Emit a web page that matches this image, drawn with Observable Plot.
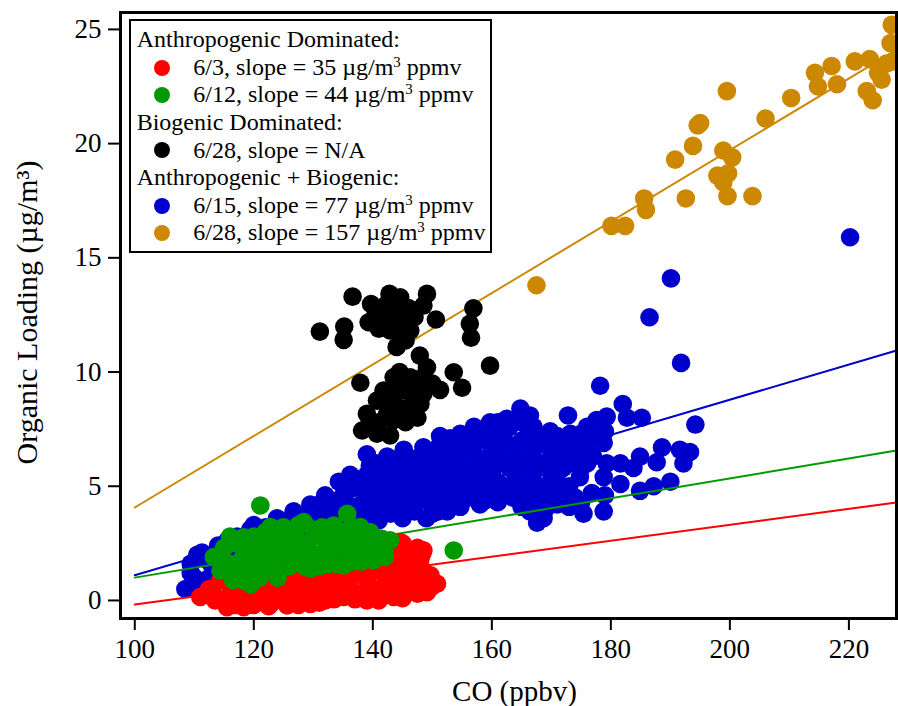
<!DOCTYPE html>
<html><head><meta charset="utf-8">
<script src="https://cdn.jsdelivr.net/npm/d3@7"></script>
<script src="https://cdn.jsdelivr.net/npm/@observablehq/plot@0.6"></script>
<style>
body{margin:0;background:#fff;}
#wrap{position:relative;width:898px;height:706px;font-family:"Liberation Serif","Times New Roman",Times,serif;}
#legend{position:absolute;left:129px;top:19px;width:363px;height:234px;border:2px solid #000;background:#fff;box-sizing:border-box;padding-top:5.2px;font-size:24px;color:#000;}
#legend .row{position:relative;height:27.6px;line-height:27.6px;white-space:nowrap;}
#legend .h{padding-left:5.7px;}
#legend .e{padding-left:62.3px;}
#legend .d{position:absolute;left:23.3px;top:5.8px;width:16px;height:16px;border-radius:50%;}
#legend sup{font-size:0.62em;line-height:0;vertical-align:0.55em;}
</style>
</head><body>
<div id="wrap"></div>
<script>
const xTicks = [100,120,140,160,180,200,220];
const yTicks = [0,5,10,15,20,25];
const xTitle = "CO (ppbv)";
const yTitle = "Organic Loading (µg/m³)";

// [CO ppbv, organic µg/m3]
const blue = [
[108.5,0.5],[109.4,1.2],[109.4,1.6],[110.5,2.0],[111.3,2.1],[112,0.9],[113,1.5],[111,0.4],[114,2.4],[115.5,2.6],[117.2,2.8],[116,1.8],
[110,1.0],[112,1.8],[114,1.0],[116,2.3],[118,2.5],
[119.4,3.1],[120,3.3],[122,3.2],[123.9,3.6],[124.5,3.5],[126.7,3.9],[127,3.8],[129.5,4.2],[120,2.4],[124,2.6],[128,2.9],[130,3.2],
[121,2.9],[123,3.0],[125,3.1],[126,3.4],[128,3.6],[129,3.5],[130,3.8],[131,4.2],
[132,4.6],[134.3,5.2],[136.2,5.5],[139,6.4],[131,3.8],[133,4.2],[135,4.6],[137,5.0],[139,5.5],[134,3.6],[137,3.9],[140,4.4],[138,3.4],[140,5.0],[141,3.5],
[131.5,3.3],[133,3.7],[134.5,4.0],[135.5,4.3],[136,3.4],[136.5,4.9],[137.5,5.3],[138,4.2],[138.5,4.8],[139,3.8],[139.5,5.9],[140.5,6.0],[141,4.0],[141,5.4],[141.5,4.6],
[142.4,6.3],[145.2,6.6],[148.5,6.7],[151.3,7.2],[142,5.7],[144,5.2],[146,5.8],[148,6.0],[150,6.3],[142,4.8],[144,4.3],[146,4.7],[148,5.3],[150,5.5],[143,3.8],[145,3.6],[147,3.9],[149,4.4],[150,3.8],[152,4.6],[152,6.5],[152,5.5],[151,3.9],
[143,4.4],[143,5.0],[143,5.6],[143,6.2],[145,4.1],[145,4.7],[145,5.3],[145,5.9],[147,4.4],[147,5.0],[147,5.6],[147,6.2],[149,3.6],[149,5.0],[149,5.8],[149,6.5],[151,4.4],[151,5.0],[151,5.8],[151,6.7],[153,4.2],[153,4.8],[153,5.4],[153,6.0],[153,6.6],[153,7.1],
[152.5,3.9],[154.7,4.1],[154.7,7.3],[156.9,7.4],[159.7,7.8],[162.5,7.95],[164.8,8.4],[166.4,8.1],
[154,5.0],[154,6.0],[156,5.5],[156,6.6],[156,4.5],[158,4.2],[158,5.2],[158,6.2],[158,7.1],[160,4.6],[160,5.6],[160,6.6],[160,7.4],[162,5.0],[162,6.0],[162,7.0],[163.6,4.5],[164,5.5],[164,6.5],[165.3,4.5],[166,5.2],[166,6.2],[166,7.2],
[155,4.4],[155,5.3],[155,6.3],[155,7.0],[157,4.9],[157,5.8],[157,6.8],[157,7.6],[159,4.4],[159,5.0],[159,6.0],[159,7.0],[161,4.3],[161,5.2],[161,6.3],[161,7.2],[161,7.8],[163,4.8],[163,5.8],[163,6.8],[163,7.6],[165,4.1],[165,5.0],[165,6.0],[165,7.0],[165,7.8],
[166.4,3.9],[167.6,3.4],[168.1,4.2],[168.7,3.6],[169.8,7.4],[171,4.2],[172.6,4.8],[173.2,7.3],[172.8,8.1],[174.8,5.4],[175.4,3.8],[176,7.6],[176.8,4.7],[177.6,7.9],[178.8,3.9],[178.8,5.4],[179.3,8.05],[178.8,6.9],[179.3,6.0],
[168,5.0],[168,6.0],[168,7.0],[170,5.5],[170,6.5],[172,5.8],[172,6.8],[174,6.3],[174,7.0],[176,6.0],[176,6.8],[170,4.6],[174,4.5],
[167,4.6],[167,5.6],[167,6.6],[167,7.6],[169,4.0],[169,5.0],[169,6.0],[169,7.0],[171,5.2],[171,6.2],[171,7.2],[173,4.1],[173,5.0],[173,6.0],[173,6.6],[175,4.3],[175,5.8],[175,6.6],[175,7.3],[177,6.3],[177,7.1],[179,4.6],[179,7.4],
[181.6,6.0],[181.6,5.1],[182,8.6],[182.7,8.0],[183.8,5.8],[184.9,6.3],[184.9,4.8],[185.2,8.0],[187.2,5.0],[187.7,6.05],[188.6,6.7],[190,5.2],[191.6,6.6],[192.2,6.0],[193.3,6.5],[194.2,7.7],
[220.2,15.9],[190.1,14.1],[186.5,12.4],[191.8,10.4],[178.2,9.4]
];
const red = [
[111,0.15],[112.5,0.5],[114.4,0.9],[115.5,-0.29],[116,0.3],[117,0.8],[118.3,-0.29],[119,0.3],[120,0.9],[121,0.0],[122,0.6],[123,-0.1],[124,0.4],[125.6,-0.22],[125,1.0],[126,0.6],[127,0.1],[128,0.8],[129.5,-0.15],[130,0.4],[131,1.0],[132,0.0],[133,0.6],[134,1.1],[135.1,0.15],[136,0.7],[137,1.3],[138,0.3],[139,0.0],[139,0.9],[140,1.5],[141,0.5],[141,1.9],[142,1.1],[142.4,2.3],[143.5,0.15],[143,1.6],[144,0.7],[144.6,2.55],[145,1.3],[145.5,2.0],[146,0.4],[146.5,1.0],[147,1.6],[147.5,2.3],[148.3,2.05],[148.5,2.2],[148,0.7],[149.7,1.1],[149.9,0.6],[149.1,0.36],[150.8,0.73],
[113.5,0.0],[117,-0.2],[120,-0.2],[122.5,-0.25],[127.5,-0.2],[131,-0.1],[133.5,0.05],[137,0.05],[141,0.0],[145,0.1],[147.5,0.3],
[113,0.4],[118,0.5],[121,0.4],[123.5,0.5],[126,0.2],[128.5,0.4],[131.5,0.5],[134,0.4],[136.5,0.3],[139.5,0.5],[142.5,0.5],[145,0.7],[147.5,0.6],
[116,1.0],[119,1.0],[122.5,1.0],[126.5,1.1],[129,1.0],[132.5,1.2],[135.5,1.1],[138,1.2],[141,1.3],[143.5,1.2],[146,1.4],[148.5,1.3],
[138.5,1.8],[140,2.1],[142,2.5],[143.5,2.2],[145,2.5],[146.5,2.1],[148,1.8],[144,1.9]
];
const green = [
[113.3,1.9],[114.4,1.3],[115,2.3],[116,1.6],[117,2.5],[118.3,2.77],[118.3,0.88],[118,1.8],[119,1.3],[120,2.2],[120,2.8],[121,1.0],[121,1.7],[122.8,3.21],[122,2.4],[123,1.5],[123.9,1.24],[124,2.0],[124.5,2.8],[125,3.2],[126,1.5],[126,2.3],[127,2.9],[128.4,3.43],[128,1.9],[129.5,1.39],[129,2.5],[130,3.1],[131,2.0],[131,1.5],[132,2.7],[133.4,3.28],[133,1.9],[134,2.4],[135.1,1.53],[135,3.0],[136,2.1],[137,2.6],[137.9,3.21],[138,1.7],[139,2.3],[140.1,1.75],[140,2.8],[141,2.2],[142.9,2.63],[142,1.9],[116.5,0.9],[119.5,0.7],
[114.5,2.0],[116,2.8],[117.5,1.2],[119,2.0],[120.5,1.4],[122,3.0],[122.5,1.9],[124,1.0],[125,2.5],[126.5,1.9],[127.5,3.3],[127.5,2.4],[128.5,1.5],[130,2.0],[130.5,2.8],[131.5,3.2],[132.5,1.6],[132,2.2],[134,2.9],[134,1.6],[135.5,2.5],[136.5,3.2],[136.5,1.7],[137.5,2.1],[138.5,2.8],[139.5,1.9],[140.5,2.5],[141.5,2.7],[142,2.3],[139.5,3.0],
[121.1,4.16],[135.7,3.79],[153.6,2.19]
];
const black = [
[131.1,11.77],[135.2,11.99],[135.1,11.41],[136.6,13.3],[139.7,12.98],[142.8,13.42],[144.6,13.27],[149.1,13.42],[148.5,12.91],[150.6,12.3],[139.3,12.18],[141.3,12.4],[143.5,12.69],[145.7,12.25],[142.9,11.82],[146.3,11.82],[145.5,11.38],[156.9,12.79],[156.3,12.11],[156.5,11.5],[159.7,10.28],[147.9,10.72],[149.1,10.21],[153.6,9.99],[155.0,9.31],[151.3,9.22],[137.9,9.53],[143.5,9.77],[146.3,9.77],[141.8,9.19],[145.2,9.19],[148.5,9.05],[140.7,8.75],[143.5,8.61],[146.9,8.68],[139.0,8.17],[142.4,8.17],[145.5,7.8],[138.2,7.44],[140.7,7.3],[142.9,7.22],[144.6,8.17],
[140.5,12.6],[142,12.9],[144,12.9],[146,12.8],[141,11.9],[143,12.2],[144.5,11.7],[147,12.4],[144,11.1],
[142,8.8],[144,9.3],[145,8.4],[147,9.4],[148,8.6],[141,7.8],[143.5,7.9],[139.5,7.8],[148.5,9.8],[150,9.5],[144.5,10.0],[147.5,8.0]
];
const orange = [
[167.5,13.8],[180.1,16.4],[182.4,16.4],[185.6,17.6],[185.9,17.1],[192.6,17.6],[190.8,19.3],[193.8,19.9],[194.6,20.8],[195.0,20.9],[199.5,22.3],[198.9,19.7],[200.4,19.4],[197.9,18.6],[199.7,18.7],[198.9,18.3],[199.6,17.7],[203.8,17.7],[206.0,21.1],[210.3,22.0],[214.3,23.1],[214.8,22.5],[217.1,23.4],[218.0,22.6],[221.0,23.6],[223.5,23.7],[223.0,22.3],[224.0,21.9],[225.5,22.8],[226.3,23.5],[227.2,25.2],[227.0,24.4],[227.4,23.6],[224.9,23.1]
];
// fit lines read at x = 100 and at the right edge
const redFit = [[100,-0.18],[228,4.29]];
const greenFit = [[100,1.0],[228,6.56]];
const blueFit = [[100,1.1],[228,10.94]];
const orangeFit = [[100,4.07],[228,24.1]];

const colors = {red:"#ff0000", green:"#009900", blue:"#0000cc", black:"#000000", orange:"#cc8800"};

const legendRows = [
  {type:"h", text:"Anthropogenic Dominated:"},
  {type:"e", color:"red", date:"6/3", slope:"35"},
  {type:"e", color:"green", date:"6/12", slope:"44"},
  {type:"h", text:"Biogenic Dominated:"},
  {type:"e", color:"black", date:"6/28", slope:null},
  {type:"h", text:"Anthropogenic + Biogenic:"},
  {type:"e", color:"blue", date:"6/15", slope:"77"},
  {type:"e", color:"orange", date:"6/28", slope:"157"}
];

const font = '"Liberation Serif","Times New Roman",Times,serif';
const dotR = 9.3;
const dots = (data, c) => Plot.dot(data, {x: d => d[0], y: d => d[1], r: dotR, fill: colors[c]});
const fit = (data, c) => Plot.line(data, {x: d => d[0], y: d => d[1], stroke: colors[c], strokeWidth: 2});

const chart = Plot.plot({
  width: 898, height: 706,
  marginLeft: 120, marginRight: 2, marginTop: 12, marginBottom: 88,
  style: {fontFamily: font, background: "#fff", color: "#000"},
  x: {domain: [97.6, 228], ticks: xTicks, label: null},
  y: {domain: [-0.79, 25.74], ticks: yTicks, label: null},
  marks: [
    dots(blue, "blue"),
    fit(orangeFit, "orange"), fit(blueFit, "blue"), fit(greenFit, "green"), fit(redFit, "red"),
    dots(red, "red"),
    dots(green, "green"),
    dots(black, "black"),
    dots(orange, "orange"),
    Plot.frame({stroke: "#000", strokeWidth: 3}),
    Plot.axisX({ticks: xTicks, tickSize: 12, tickPadding: 8, fontSize: 27, strokeWidth: 2, label: null}),
    Plot.axisY({ticks: yTicks, tickSize: 12, tickPadding: 7, fontSize: 27, strokeWidth: 2, label: null}),
    Plot.text([xTitle], {frameAnchor: "bottom", textAnchor: "middle", lineAnchor: "middle", dy: 73, dx: 6, fontSize: 29, text: d => d}),
    Plot.text([yTitle], {frameAnchor: "left", textAnchor: "middle", lineAnchor: "middle", dx: -93, dy: -3, rotate: -90, fontSize: 30, text: d => d})
  ]
});
const wrap = document.getElementById("wrap");
wrap.appendChild(chart);

const lg = document.createElement("div");
lg.id = "legend";
for (const r of legendRows) {
  const row = document.createElement("div");
  row.className = "row " + r.type;
  if (r.type === "h") row.textContent = r.text;
  else {
    const d = document.createElement("span");
    d.className = "d"; d.style.background = colors[r.color];
    row.appendChild(d);
    const t = document.createElement("span");
    t.innerHTML = r.slope ? `${r.date}, slope = ${r.slope} µg/m<sup>3</sup> ppmv` : `${r.date}, slope = N/A`;
    row.appendChild(t);
  }
  lg.appendChild(row);
}
wrap.appendChild(lg);
</script>
</body></html>
